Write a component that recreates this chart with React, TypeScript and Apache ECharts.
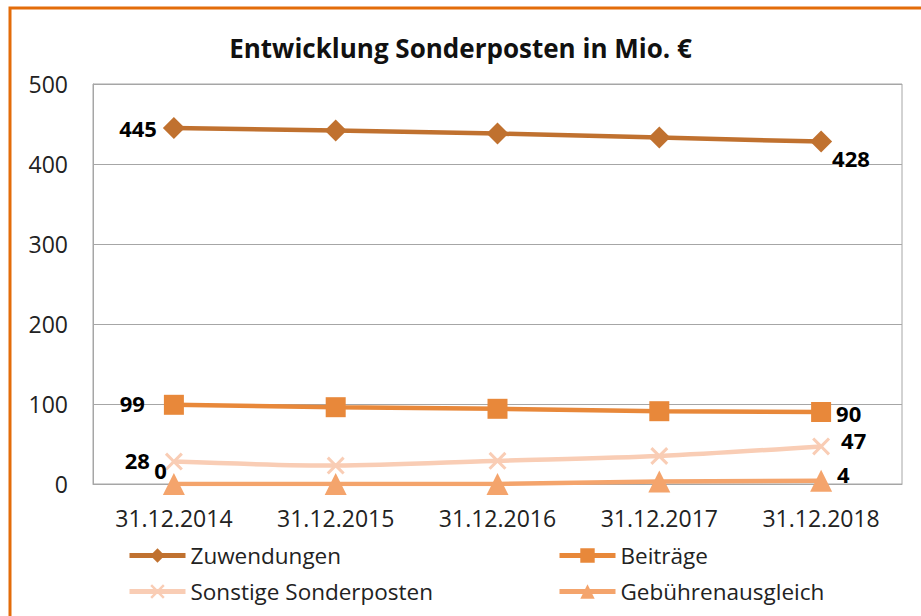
import React, { useEffect, useRef } from "react";
import * as echarts from "echarts";

const categories = ["31.12.2014", "31.12.2015", "31.12.2016", "31.12.2017", "31.12.2018"];
const zuwendungen = [445, 442, 438, 433, 428];
const beitraege = [99, 96, 94, 91, 90];
const sonstige = [28, 23, 29, 35, 47];
const gebuehren = [0, 0, 0, 3, 4];
const seriesNames = ["Zuwendungen", "Beiträge", "Sonstige Sonderposten", "Gebührenausgleich"];
const yTicks = { min: 0, max: 500, interval: 100 };

const FONT = "'Open Sans', 'Noto Sans', sans-serif";
const XSYM = "path://M0,1.2L1.2,0L5,3.8L8.8,0L10,1.2L6.2,5L10,8.8L8.8,10L5,6.2L1.2,10L0,8.8L3.8,5Z";

const labelBase = { show: true, color: "#000", fontWeight: "bold", fontSize: 22, lineHeight: 18, fontFamily: FONT };

function withLabels(values: number[], first: any, last: any) {
  return values.map((v, i) => {
    if (i === 0) return { value: v, label: { ...labelBase, ...first } };
    if (i === values.length - 1) return { value: v, label: { ...labelBase, ...last } };
    return { value: v };
  });
}

export default function App() {
  const ref = useRef<HTMLDivElement>(null);
  useEffect(() => {
    if (!ref.current) return;
    const chart = echarts.init(ref.current, undefined, { renderer: "svg" });
    const legendCommon = {
      itemWidth: 56,
      itemHeight: 18,
      itemGap: 0,
      textStyle: { fontFamily: FONT, fontSize: 22.5, color: "#222" },
      padding: 0,
      lineStyle: { width: 5 },
    };
    chart.setOption({
      animation: false,
      backgroundColor: "#fff",
      title: {
        text: "Entwicklung Sonderposten in Mio. €",
        left: "center",
        top: 30,
        textStyle: { fontFamily: FONT, fontSize: 26, fontWeight: "bold", color: "#111" },
      },
      graphic: [
        {
          type: "rect",
          shape: { x: 10, y: 8, width: 960, height: 660 },
          style: { fill: "none", stroke: "#E36C0A", lineWidth: 3 },
          silent: true,
        },
      ],
      legend: [
        { ...legendCommon, data: [seriesNames[0]], left: 127, top: 544 },
        { ...legendCommon, data: [seriesNames[1]], left: 557, top: 544 },
        { ...legendCommon, data: [seriesNames[2]], left: 127, top: 580 },
        { ...legendCommon, data: [seriesNames[3]], left: 557, top: 580 },
      ],
      grid: {
        left: 93,
        right: 19,
        top: 84,
        bottom: 132,
        show: true,
        borderColor: "#a6a6a6",
        borderWidth: 1,
      },
      xAxis: {
        type: "category",
        data: categories,
        boundaryGap: true,
        axisLine: { show: true, lineStyle: { color: "#a6a6a6" } },
        axisTick: { show: false },
        axisLabel: { fontFamily: FONT, fontSize: 23, color: "#222", margin: 22 },
      },
      yAxis: {
        type: "value",
        min: yTicks.min,
        max: yTicks.max,
        interval: yTicks.interval,
        axisLine: { show: true, lineStyle: { color: "#a6a6a6" } },
        axisTick: { show: false },
        splitLine: { lineStyle: { color: "#a6a6a6" } },
        axisLabel: { fontFamily: FONT, fontSize: 23, color: "#222", margin: 25 },
      },
      series: [
        {
          name: seriesNames[0],
          type: "line",
          data: withLabels(zuwendungen, { position: "left", distance: 6 }, { position: "right", offset: [0, 16], distance: 0 }),
          symbol: "diamond",
          symbolSize: 22,
          lineStyle: { width: 4.5, color: "#C0712F" },
          itemStyle: { color: "#C0712F" },
        },
        {
          name: seriesNames[1],
          type: "line",
          data: withLabels(beitraege, { position: "left", offset: [-14, -2] }, { position: "right", offset: [0, 1] }),
          symbol: "rect",
          symbolSize: 20,
          lineStyle: { width: 4.5, color: "#E8883A" },
          itemStyle: { color: "#E8883A" },
        },
        {
          name: seriesNames[2],
          type: "line",
          smooth: 0.3,
          data: withLabels(sonstige, { position: "left", offset: [-10, -2] }, { position: "right", offset: [6, -6] }),
          symbol: XSYM,
          symbolSize: 18,
          lineStyle: { width: 4.5, color: "#F9CDB5" },
          itemStyle: { color: "#F9CDB5" },
        },
        {
          name: seriesNames[3],
          type: "line",
          data: withLabels(gebuehren, { position: "left", offset: [4, -14], distance: 0 }, { position: "right", offset: [0, -7] }),
          symbol: "triangle",
          symbolSize: 22,
          lineStyle: { width: 4.5, color: "#F4A46C" },
          itemStyle: { color: "#F4A46C" },
        },
      ],
    });
    return () => chart.dispose();
  }, []);
  return (
    <div
      ref={ref}
      style={{ position: "fixed", left: 0, top: 0, width: 921, height: 616 }}
    />
  );
}
